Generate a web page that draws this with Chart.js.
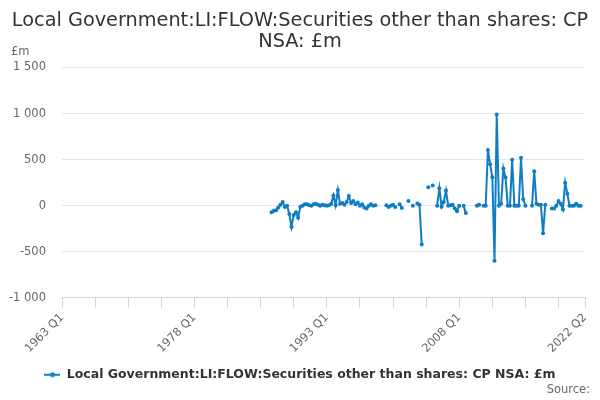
<!DOCTYPE html>
<html>
<head>
<meta charset="utf-8">
<script src="https://cdn.jsdelivr.net/npm/chart.js@4.4.0/dist/chart.umd.min.js"></script>
<style>
  html, body { margin: 0; padding: 0; background: #fff; }
  #wrap { width: 600px; height: 400px; }
</style>
</head>
<body>
<div id="wrap"><canvas id="myChart"></canvas></div>
<script>
// quarters 1963 Q1 .. 2022 Q2
const firstYear = 1963;
const lastLabel = '2022 Q2';
const labels = [];
for (let y = firstYear; y <= 2022; y++) {
  for (let q = 1; q <= 4; q++) {
    labels.push(y + ' Q' + q);
    if (y + ' Q' + q === lastLabel) break;
  }
}

// series starts at this quarter, null = no value
const seriesStart = '1986 Q4';
const seriesValues = [
  -70, -55, -50, -20, 10, 40, -15, 0, -90, -230,
  -100, -70, -130, -10, 0, 15, 15, 5, 0, 15,
  20, 10, 0, 10, 5, 0, 5, 20, 110, 5,
  170, 20, 30, 10, 40, 105, 30, 50, 15, 35,
  0, 15, -20, -30, 0, 15, 0, 5, null, null,
  null, null, 5, -15, 0, 10, -15, null, 15, -25,
  null, null, 50, null, 0, null, 25, 10, -420, null,
  null, 200, null, 220, null, 0, 190, -10, 40, 165,
  0, 5, 10, -30, -60, 0, null, 0, -80, null,
  null, null, null, 0, 10, null, 0, 0, 605, 450,
  310, -598, 990, 0, 20, 405, 305, 0, 0, 500,
  0, 0, 0, 520, 70, 0, null, null, 0, 375,
  20, 10, 10, -300, 10, null, null, -30, -30, 0,
  50, 20, -40, 250, 130, 0, 0, 0, 20, 0,
  0
];

const yTicks = [-1000, -500, 0, 500, 1000, 1500];
const majorEvery = 60;
const minorEvery = 15;

const seriesName = 'Local Government:LI:FLOW:Securities other than shares: CP NSA: £m';
const titleLines = ['Local Government:LI:FLOW:Securities other than shares: CP', 'NSA: £m'];
const lineColor = '#0f7dc2';

const startIdx = labels.indexOf(seriesStart);
const data = labels.map((l, i) => {
  const k = i - startIdx;
  return (k >= 0 && k < seriesValues.length) ? seriesValues[k] : null;
});

function spaced(v) {
  return String(v).replace(/\B(?=(\d{3})+(?!\d))/g, ' ');
}

// legend marker: short line with dot
const marker = document.createElement('canvas');
marker.width = 16;
marker.height = 8;
const mctx = marker.getContext('2d');
mctx.strokeStyle = lineColor;
mctx.lineWidth = 2;
mctx.beginPath();
mctx.moveTo(0, 4);
mctx.lineTo(16, 4);
mctx.stroke();
mctx.fillStyle = lineColor;
mctx.beginPath();
mctx.arc(8, 4, 2.5, 0, Math.PI * 2);
mctx.fill();

const extraText = {
  id: 'extraText',
  afterDraw(chart) {
    const c = chart.ctx;
    c.save();
    c.font = '11.5px "DejaVu Sans"';
    c.fillStyle = '#666666';
    c.textBaseline = 'middle';
    c.textAlign = 'left';
    c.fillText('£m', 11, 52);
    c.textAlign = 'right';
    c.fillText('Source:', 590, 390);
    c.restore();
  }
};

const ctx = document.getElementById('myChart').getContext('2d');
new Chart(ctx, {
  type: 'line',
  data: {
    labels: labels,
    datasets: [{
      label: seriesName,
      data: data,
      borderColor: lineColor,
      backgroundColor: lineColor,
      borderWidth: 2,
      pointRadius: 2,
      pointBorderWidth: 0,
      pointHoverRadius: 3,
      tension: 0,
      spanGaps: false
    }]
  },
  options: {
    responsive: true,
    maintainAspectRatio: false,
    animation: false,
    layout: { padding: { top: 5, right: 0, bottom: 9, left: 0 } },
    plugins: {
      title: {
        display: true,
        text: titleLines,
        color: '#333333',
        font: { family: 'DejaVu Sans', size: 19.3, weight: 'normal', lineHeight: 1.1 },
        padding: { top: 5, bottom: 15 }
      },
      legend: {
        position: 'bottom',
        labels: {
          usePointStyle: true,
          pointStyle: marker,
          pointStyleWidth: 16,
          color: '#333333',
          font: { family: 'DejaVu Sans', size: 12.5, weight: 'bold' },
          padding: 10
        }
      },
      tooltip: { enabled: false }
    },
    scales: {
      x: {
        grid: {
          drawOnChartArea: false,
          drawTicks: true,
          tickLength: 10,
          color: '#ccd6eb'
        },
        border: { display: true, color: '#ccd6eb' },
        ticks: {
          autoSkip: false,
          minRotation: 45,
          maxRotation: 45,
          color: '#666666',
          font: { family: 'DejaVu Sans', size: 11.5 },
          padding: 3,
          callback: function (val, index) {
            if (index % majorEvery === 0 || index === labels.length - 1) return labels[index];
            if (index % minorEvery === 0) return '';
            return null;
          }
        }
      },
      y: {
        min: yTicks[0],
        max: yTicks[yTicks.length - 1],
        afterBuildTicks: function (scale) {
          scale.ticks = yTicks.map(v => ({ value: v }));
        },
        afterFit: function (scale) {
          scale.width = 62;
        },
        grid: { color: '#e6e6e6', drawTicks: false },
        border: { display: false },
        ticks: {
          color: '#666666',
          font: { family: 'DejaVu Sans', size: 11.5 },
          padding: 16,
          callback: v => spaced(v)
        }
      },
      // empty right margin so the plot ends at x=585
      yRight: {
        position: 'right',
        display: true,
        grid: { display: false, drawTicks: false },
        border: { display: false },
        ticks: { display: false },
        afterFit: function (scale) {
          scale.width = 15;
        }
      }
    }
  },
  plugins: [extraText]
});
</script>
</body>
</html>
